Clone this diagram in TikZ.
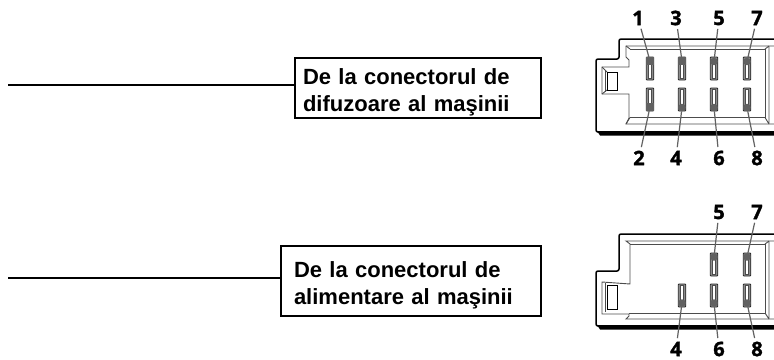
\documentclass[tikz,border=0pt]{standalone}
\usepackage{fontspec}
\setmainfont{Liberation Sans}
\newfontfamily\pinfont[BoldFeatures={FakeBold=1.6}]{Open Sans}
\usetikzlibrary{positioning}
\tikzset{
	labelbox/.style={draw, rectangle, line width=1.1pt, inner ysep=0pt, align=left, font=\fontsize{22}{27}\selectfont\bfseries},
	pinnum/.style={inner sep=0pt, font=\pinfont\fontsize{20}{20}\selectfont\bfseries},
	pinbody/.style={draw=black!85, rectangle, fill=black!45, line width=0.8pt, inner sep=0pt, minimum width=7.5pt, minimum height=23pt, rounded corners=0.8pt},
	pinslot/.style={draw=black!70, rectangle, fill=white, line width=0.4pt, inner sep=0pt, minimum width=3pt, minimum height=15pt},
	pindot/.style={circle, fill=black!62, inner sep=0pt, minimum size=7.5pt},
	pinsq/.style={rectangle, fill=black!62, inner sep=0pt, minimum width=7.5pt, minimum height=8pt},
	leader/.style={draw=black!62, line width=1.2pt, shorten <=3.5pt},
	wire/.style={line width=1.1pt},
	shell/.style={line width=1.5pt, line join=round},
	rim/.style={draw=black!70, line width=0.9pt, line join=miter},
	band/.style={fill=black, draw=none},
}
\begin{document}
\begin{tikzpicture}[x=1pt, y=-1pt]
		\useasboundingbox (0,0) rectangle (774,359);
		
		% boxes on the left
		\node (speakerbox) [labelbox, text width=230pt, inner xsep=8pt, minimum width=246pt, minimum height=60pt] at (418,88) {\rule{0pt}{24pt}De la conectorul de\\difuzoare al maşinii};
		\node (powerbox) [labelbox, text width=234pt, inner xsep=13pt, minimum width=260pt, minimum height=70pt] at (411,281) {\rule{0pt}{24pt}De la conectorul de\\alimentare al maşinii};
		\coordinate (speakerend) at (8,85);
		\coordinate (powerend) at (8,278);
		\draw [wire] (speakerend) -- (speakerend -| speakerbox.west);
		\draw [wire] (powerend) -- (powerend -| powerbox.west);
		
		% upper connector
		\fill [band] (597,131) -- (774,131) -- (774,135.5) -- (600,135.5) -- cycle;
		\draw [shell, rounded corners=2pt] (774,39) -- (619,39) -- (619,59) -- (596,59) -- (596,132) -- (774,132);
		\draw [rim] (774,46) -- (626,46) -- (626,57) -- (629,60) -- (629,67) -- (602,67) -- (602,94) -- (629,94) -- (629,118) -- (626,124) -- (774,124);
		\draw [rim] (630,49) -- (765,49) -- (765,117.5) -- (630,117.5);
		\draw [rim] (626,46) -- (630,49) (626,124) -- (630,117.5) (769,46) -- (769,124) (765,49) -- (769,46) (765,117.5) -- (769,124);
		\draw [rim] (602,67) -- (607,72) (602,94) -- (607,90);
		\draw [line width=1pt] (617,72) -- (607,72) -- (607,90) -- (617,90) -- cycle;
		\draw [rim] (605,70) -- (605,92);
		
		\node (a1) [pinbody] at (650,68.5) {};
		\node (a3) [pinbody] at (682,68.5) {};
		\node (a5) [pinbody] at (714,68.5) {};
		\node (a7) [pinbody] at (747,68.5) {};
		\node (a2) [pinbody] at (650,99.5) {};
		\node (a4) [pinbody] at (682,99.5) {};
		\node (a6) [pinbody] at (714,99.5) {};
		\node (a8) [pinbody] at (747,99.5) {};
		\node [pinslot] at (650,71) {};
		\node [pinslot] at (682,71) {};
		\node [pinslot] at (714,71) {};
		\node [pinslot] at (747,71) {};
		\node [pinslot] at (650,97) {};
		\node [pinslot] at (682,97) {};
		\node [pinslot] at (714,97) {};
		\node [pinslot] at (747,97) {};
		\node (d1) [pinsq] at (650,61) {};
		\node (d3) [pinsq] at (682,61) {};
		\node (d5) [pindot] at (714,61.5) {};
		\node (d7) [pindot] at (747,61.5) {};
		\node (d2) [pinsq] at (650,107) {};
		\node (d4) [pindot] at (682,107.5) {};
		\node (d6) [pindot] at (714,107.5) {};
		\node (d8) [pindot] at (747,107.5) {};
		
		\node (n1) [pinnum] at (638,18) {1};
		\node (n3) [pinnum] at (676,18) {3};
		\node (n5) [pinnum] at (719,18) {5};
		\node (n7) [pinnum] at (757,18) {7};
		\node (n2) [pinnum] at (639,158) {2};
		\node (n4) [pinnum] at (676,158) {4};
		\node (n6) [pinnum] at (719,158) {6};
		\node (n8) [pinnum] at (757,158) {8};
		
		\begin{scope}[leader]
			\draw (n1) -- (d1);
			\draw (n3) -- (d3);
			\draw (n5) -- (d5);
			\draw (n7) -- (d7);
			\draw (n2) -- (d2);
			\draw (n4) -- (d4);
			\draw (n6) -- (d6);
			\draw (n8) -- (d8);
		\end{scope}
		
		% lower connector
		\fill [band] (597,325) -- (774,325) -- (774,329.5) -- (600,329.5) -- cycle;
		\draw [shell, rounded corners=2pt] (774,234) -- (619,234) -- (619,271) -- (596,271) -- (596,326) -- (774,326);
		\draw [rim] (774,241) -- (626,241) -- (630,244) -- (630,284) -- (602,282) -- (602,314) -- (629,314) -- (629,316) -- (626,319) -- (774,319);
		\draw [rim] (630,244) -- (765,244) -- (765,313) -- (629,313);
		\draw [rim] (769,241) -- (769,319) (765,244) -- (769,241) (765,313) -- (769,319);
		\draw [line width=1pt] (617,285) -- (607,285) -- (607,309) -- (617,309) -- cycle;
		\draw [rim] (605,283) -- (605,312);
		
		\node (b5) [pinbody] at (714,264.5) {};
		\node (b7) [pinbody] at (747,264.5) {};
		\node (b4) [pinbody] at (682,295.5) {};
		\node (b6) [pinbody] at (714,295.5) {};
		\node (b8) [pinbody] at (747,295.5) {};
		\node [pinslot] at (714,267) {};
		\node [pinslot] at (747,267) {};
		\node [pinslot] at (682,293) {};
		\node [pinslot] at (714,293) {};
		\node [pinslot] at (747,293) {};
		\node (e5) [pindot] at (714,257) {};
		\node (e7) [pindot] at (747,257) {};
		\node (e4) [pindot] at (682,303) {};
		\node (e6) [pindot] at (714,303) {};
		\node (e8) [pindot] at (747,303) {};
		
		\node (m5) [pinnum] at (719,212) {5};
		\node (m7) [pinnum] at (757,212) {7};
		\node (m4) [pinnum] at (676,349) {4};
		\node (m6) [pinnum] at (719,349) {6};
		\node (m8) [pinnum] at (757,349) {8};
		
		\begin{scope}[leader]
			\draw (m5) -- (e5);
			\draw (m7) -- (e7);
			\draw (m4) -- (e4);
			\draw (m6) -- (e6);
			\draw (m8) -- (e8);
		\end{scope}
	\end{tikzpicture}
\end{document}
